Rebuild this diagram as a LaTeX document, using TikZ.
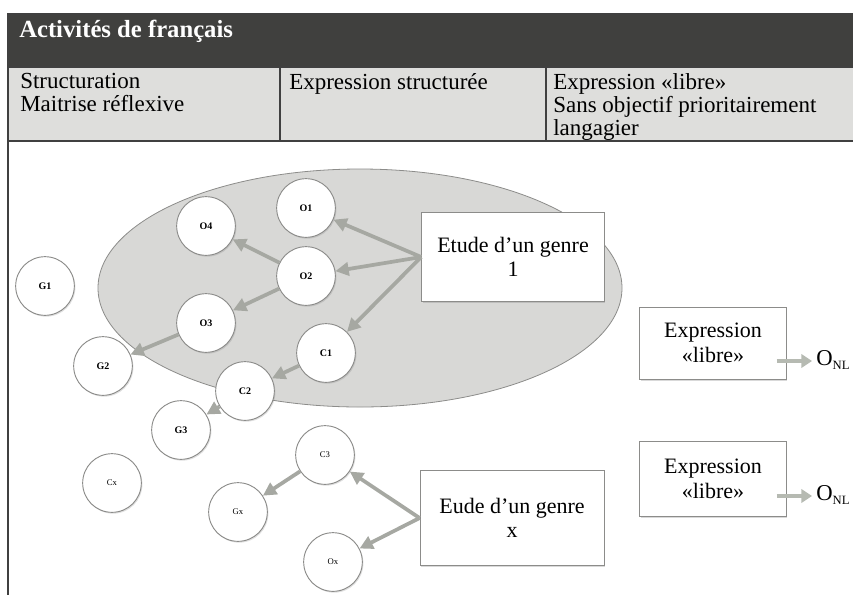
\documentclass[tikz,border=0pt]{standalone}
\usepackage{fontspec}
\setmainfont{Liberation Serif}
\usetikzlibrary{arrows.meta,shapes.geometric,shadows,positioning,calc}
\definecolor{titlegray}{RGB}{64,64,62}
\definecolor{headgray}{RGB}{222,222,220}
\definecolor{blobgray}{RGB}{216,216,214}
\definecolor{rimgray}{RGB}{140,140,138}
\definecolor{arrowgray}{RGB}{166,168,162}
\definecolor{freegray}{RGB}{182,186,178}
\newcommand{\onlsub}{\raisebox{-0.45ex}{\fontsize{9.5}{10}\selectfont NL}}

\begin{document}
\begin{tikzpicture}[x=0.75pt, y=-0.75pt,
  bubble/.style={circle, draw=rimgray, line width=0.7pt, fill=white, minimum size=44pt, inner sep=0pt,
    font=\fontsize{7.5}{8}\selectfont\bfseries,
    drop shadow={shadow xshift=0.8pt, shadow yshift=-1pt, opacity=0.25}},
  bubblex/.style={bubble, font=\fontsize{6.5}{7}\selectfont},
  genrebox/.style={rectangle, draw=rimgray, line width=0.7pt, fill=white, align=center,
    font=\fontsize{16.5}{18.5}\selectfont,
    drop shadow={shadow xshift=0.8pt, shadow yshift=-1.2pt, opacity=0.3}},
  headtext/.style={anchor=north west, inner sep=0pt, align=left, font=\fontsize{17.25}{17.25}\selectfont},
  titletext/.style={anchor=base west, inner sep=0pt, text=white, font=\fontsize{18.5}{20}\selectfont\bfseries},
  onltext/.style={anchor=base west, inner sep=0pt, font=\fontsize{17}{20}\selectfont},
  link/.style={-{Triangle[length=10pt, width=10pt]}, line width=2.8pt, draw=arrowgray},
  freelink/.style={-{Triangle[length=8pt, width=10pt]}, line width=3.6pt, draw=freegray, shorten >=3pt}]
  \def\tabl{8}
  \def\tabr{860}
  \def\bartop{14}
  \def\barbot{67}
  \def\rowbot{141}

  % Fixed bounding box
  \path[use as bounding box] (0,0) rectangle (853,594);

  % Title bar and header row
  \fill[titlegray] (\tabl,\bartop) rectangle (\tabr,\barbot);
  \fill[headgray] (\tabl,\barbot) rectangle (\tabr,\rowbot);
  \draw[line width=1pt, black!75] (\tabr,\bartop) -- (\tabl,\bartop) -- (\tabl,600);
  \draw[line width=1.2pt, black!75] (\tabl,\barbot) -- (\tabr,\barbot);
  \draw[line width=1.2pt, black!75] (\tabl,\rowbot) -- (\tabr,\rowbot);
  \foreach \xx in {280,546}
    \draw[line width=1pt, black!75] (\xx,\barbot) -- (\xx,\rowbot);

  \node[titletext] (title) at (19,37) {Activités de français};
  \node[headtext] (colA) at (20,73) {Structuration\\Maitrise réflexive};
  \node[headtext] (colB) at (289,73) {Expression structurée};
  \node[headtext] (colC) at (553,73) {Expression «libre»\\Sans objectif prioritairement\\langagier};

  % Genre 1 area
  \fill[blobgray, draw=rimgray, line width=0.6pt] (360,288) ellipse [x radius=262, y radius=119];

  % Circles
  \foreach \nm/\lbl/\xx/\yy in {o1/O1/306/208, o4/O4/206/226, o2/O2/306/276, g1/G1/45/286,
      o3/O3/206/323, c1/C1/326/353, g2/G2/103/366, c2/C2/245/391, g3/G3/181/430}
    \node[bubble] (\nm) at (\xx,\yy) {\lbl};
  \foreach \nm/\lbl/\xx/\yy in {cx/Cx/112/483, c3/C3/325/455, gx/Gx/238/512, ox/Ox/333/562}
    \node[bubblex] (\nm) at (\xx,\yy) {\lbl};

  % Genre boxes
  \node[genrebox, minimum width=137pt, minimum height=67pt] (genre1) at (513,257) {Etude d’un genre\\1};
  \node[genrebox, minimum width=138pt, minimum height=71pt] (genrex) at (512,518) {Eude d’un genre\\x};

  % Free expression
  \node[genrebox, minimum width=110pt, minimum height=54pt] (libre1) at (713,343) {Expression\\«libre»};
  \node[genrebox, minimum width=110pt, minimum height=56pt] (libre2) at (713,479) {Expression\\«libre»};
  \node[onltext] (onl1) at (816,365) {O\onlsub};
  \node[onltext] (onl2) at (816,500) {O\onlsub};
  \coordinate (tail1) at ([shift={(-10,18)}]libre1.east);
  \coordinate (tail2) at ([shift={(-10,17)}]libre2.east);

  % Arrows
  \foreach \dst in {o1,o2,c1}
    \draw[link] (genre1.west) -- (\dst);
  \foreach \dst in {c3,ox}
    \draw[link] (genrex.west) -- (\dst);
  \foreach \src/\dst in {o2/o4, o2/o3, o3/g2, c1/c2, c2/g3, c3/gx}
    \draw[link] (\src) -- (\dst);
  \draw[freelink] (tail1) -- (tail1 -| onl1.west);
  \draw[freelink] (tail2) -- (tail2 -| onl2.west);

\end{tikzpicture}
\end{document}
